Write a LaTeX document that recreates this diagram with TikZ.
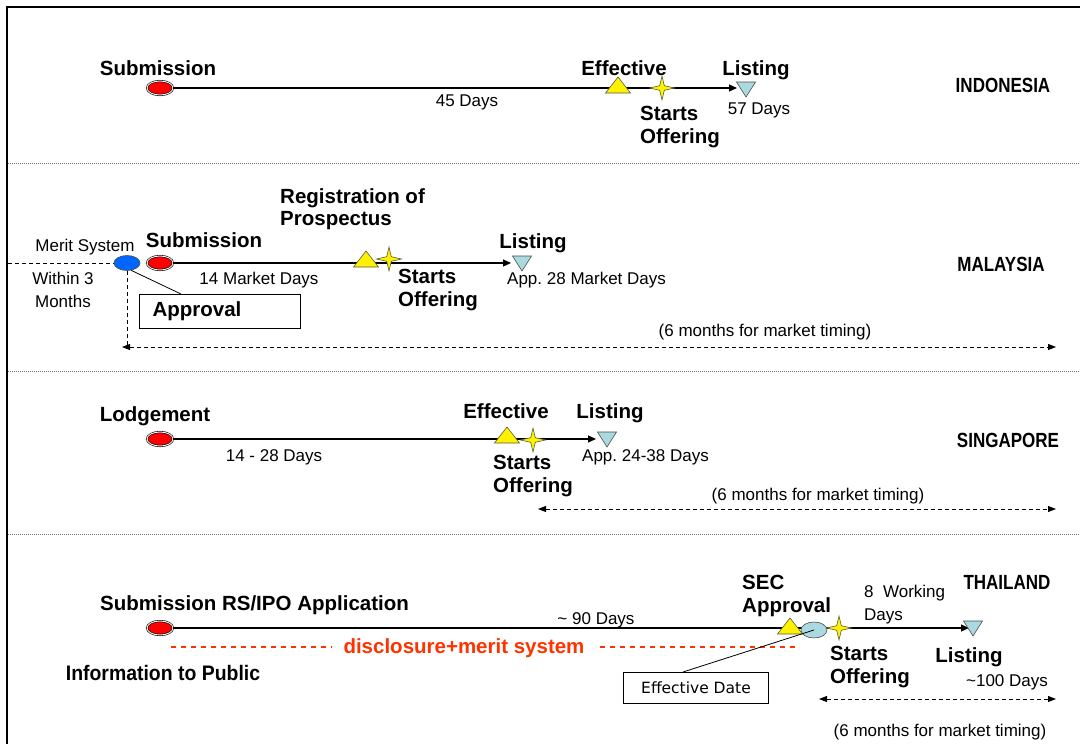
\documentclass[tikz,border=0pt]{standalone}
\usepackage{fontspec}
\usepackage{graphicx}
\setmainfont{Liberation Sans}
\newfontfamily\dejavu{DejaVu Sans}
\usetikzlibrary{arrows.meta,shapes.geometric,calc}
\definecolor{lb}{RGB}{170,218,224}
\definecolor{ballblue}{RGB}{0,102,255}
\definecolor{disc}{RGB}{255,51,0}
\definecolor{mkline}{RGB}{90,90,60}
\newcommand\cond[1]{\scalebox{0.83}[1]{#1}}
\frenchspacing
\begin{document}
\begin{tikzpicture}[x=1pt,y=-1pt,
  lbl/.style={font=\fontsize{20.5}{22.5}\selectfont\bfseries, inner sep=0pt},
  txt/.style={font=\fontsize{17}{23}\selectfont, inner sep=0pt},
  ml/.style={lbl, align=left, anchor=west},
  redball/.style={ellipse, draw=black, line width=0.6pt, double=white, double distance=0.9pt, fill=red, minimum width=26pt, minimum height=14pt, inner sep=0pt},
  blueball/.style={ellipse, draw=black!70, line width=0.6pt, fill=ballblue, minimum width=26pt, minimum height=15pt, inner sep=0pt},
  lbball/.style={ellipse, draw=black!70, line width=0.6pt, fill=lb, minimum width=26pt, minimum height=16pt, inner sep=0pt},
  tl/.style={line width=1.1pt, -{Triangle[length=8pt,width=7pt]}},
  dbl/.style={line width=0.9pt, dash pattern=on 4pt off 3pt, {Triangle[length=8pt,width=6pt]}-{Triangle[length=8pt,width=6pt]}},
  sep/.style={black!55, line width=0.8pt, dash pattern=on 1pt off 1pt},
  box/.style={draw, line width=1pt, rectangle},
  discline/.style={disc, line width=1.2pt, dash pattern=on 5pt off 5pt},
  pics/uptri/.style={code={\draw[line width=0.6pt, draw=mkline, fill=yellow] (-12.5,4) -- (0,-12) -- (12.5,4) -- cycle;}},
  pics/downtri/.style={code={\draw[line width=0.6pt, draw=black!70, fill=lb] (-9.5,-6) -- (9.5,-6) -- (0,9) -- cycle;}},
  pics/star4/.style={code={\draw[line width=0.6pt, draw=mkline, fill=yellow] (0,-12) -- (2.3,-2.3) -- (12.5,0) -- (2.3,2.3) -- (0,12) -- (-2.3,2.3) -- (-12.5,0) -- (-2.3,-2.3) -- cycle;}}
]
\useasboundingbox (0,0) rectangle (1080,744);
% frame
\draw[line width=2.5pt] (7,744) -- (7,7) -- (1080,7);
% separators
\draw[sep] (8,163) -- (1080,163);
\draw[sep] (8,371) -- (1080,371);
\draw[sep] (8,534) -- (1080,534);

% ---------------- INDONESIA ----------------
\node[redball] (i0) at (160,88) {};
\coordinate (iend) at (737,88);
\draw[tl] (i0) -- (iend);
\node[lbl] (isubl) at (158,68) {Submission};
\node[txt] (idays) at (467,102) {45 Days};
\node[lbl] (ieff) at (624,68) {Effective};
\path (618,89) pic {uptri};
\path (662,88) pic {star4};
\node[ml] (istart) at (640,127) {Starts\\Offering};
\node[lbl] (ilist) at (756,70) {Listing};
\path (746,88) pic {downtri};
\node[txt] (i57) at (759,110) {57 Days};
\node[lbl] (indo) at (1003,85) {\cond{INDONESIA}};

% ---------------- MALAYSIA ----------------
\node[blueball] (m0) at (127,263) {};
\node[redball] (m1) at (160,263) {};
\coordinate (mleft) at (8,263);
\draw[line width=0.8pt, dash pattern=on 4pt off 3pt] (mleft) -- (m0);
\node[txt] (merit) at (85,247) {Merit System};
\node[txt, align=center] (within) at (63,290) {Within 3\\Months};
\node[lbl] (msubl) at (204,240) {Submission};
\coordinate (mend) at (511,263);
\draw[tl] (m1) -- (mend);
\node[txt] (mdays) at (259,280) {14 Market Days};
\node[ml] (mreg) at (280,209) {Registration of\\Prospectus};
\path (366,263) pic {uptri};
\path (389,259) pic {star4};
\node[ml] (mstart) at (398,290) {Starts\\Offering};
\node[lbl] (mlist) at (533,243) {Listing};
\path (522,262) pic {downtri};
\node[txt, anchor=west] (m28) at (507,280) {App. 28 Market Days};
\node[lbl] (malay) at (1001,264) {\cond{MALAYSIA}};
\node[box, lbl, anchor=north west, text width=135pt, align=left, inner xsep=13pt, minimum height=34pt] (appr) at (139,294) {Approval};
\coordinate (apprtop) at ($(appr.north west)+(42,0)$);
\draw[line width=0.8pt] (m0.-60) -- (apprtop);
\coordinate (mcorner) at (127,347);
\draw[line width=0.9pt, dash pattern=on 4pt off 3pt] (m0.south) -- (mcorner);
\coordinate (mL) at (122,347);
\coordinate (mR) at (1056,347);
\draw[dbl] (mL) -- (mR);
\node[txt] (m6) at (765,332) {(6 months for market timing)};

% ---------------- SINGAPORE ----------------
\node[redball] (s0) at (160,439) {};
\node[lbl] (slodge) at (155,416) {Lodgement};
\coordinate (send) at (596,439);
\draw[tl] (s0) -- (send);
\node[txt] (sdays) at (274,457) {14 - 28 Days};
\node[lbl] (seff) at (506,411) {Effective};
\path (507,439) pic {uptri};
\path (533,440) pic {star4};
\node[ml] (sstart) at (493,476) {Starts\\Offering};
\node[lbl] (slist) at (610,413) {Listing};
\path (607,438) pic {downtri};
\node[txt, anchor=west] (s24) at (582,457) {App. 24-38 Days};
\node[lbl] (sing) at (1008,440) {\cond{SINGAPORE}};
\coordinate (sL) at (538,509);
\coordinate (sR) at (1056,509);
\draw[dbl] (sL) -- (sR);
\node[txt] (s6) at (818,496) {(6 months for market timing)};

% ---------------- THAILAND ----------------
\node[redball] (t0) at (160,628) {};
\node[lbl, anchor=west] (tsub) at (100,605) {Submission RS/IPO Application};
\coordinate (tend) at (969,628);
\draw[tl] (t0) -- (tend);
\node[txt] (t90) at (596,620) {\textasciitilde{} 90 Days};
\node[lbl, text=disc] (dtext) at (464,648) {disclosure+merit system};
\coordinate (dl1) at (171,647);
\coordinate (dl2) at (332,647);
\coordinate (dr1) at (600,647);
\coordinate (dr2) at (796,647);
\draw[discline] (dl1) -- (dl2);
\draw[discline] (dr1) -- (dr2);
\node[lbl] (tinfo) at (163,673) {\scalebox{0.925}[1]{\fontsize{21}{23}\selectfont Information to Public}};
\node[ml] (tsec) at (742,596) {SEC\\Approval};
\path (790,630) pic {uptri};
\node[lbball] (te) at (814,630) {};
\path (839,628) pic {star4};
\node[txt, align=left, anchor=west] (t8) at (864,605) {8\ \ Working\\Days};
\node[lbl] (thai) at (1007,582) {\cond{THAILAND}};
\node[ml] (tstart) at (830,667) {Starts\\Offering};
\node[lbl] (tlist) at (969,657) {Listing};
\path (973,627) pic {downtri};
\node[txt] (t100) at (1007,682) {\textasciitilde 100 Days};
\node[box, anchor=north west, minimum width=145pt, minimum height=31pt, inner sep=0pt, font=\dejavu\fontsize{15.5}{18}\selectfont] (ed) at (623,672) {Effective Date};
\coordinate (edtop) at ($(ed.north west)+(60,0)$);
\draw[line width=0.8pt] (edtop) -- (te.center);
\coordinate (tL) at (819,699);
\coordinate (tR) at (1056,699);
\draw[dbl] (tL) -- (tR);
\node[txt] (t6) at (940,732) {(6 months for market timing)};
\end{tikzpicture}
\end{document}
